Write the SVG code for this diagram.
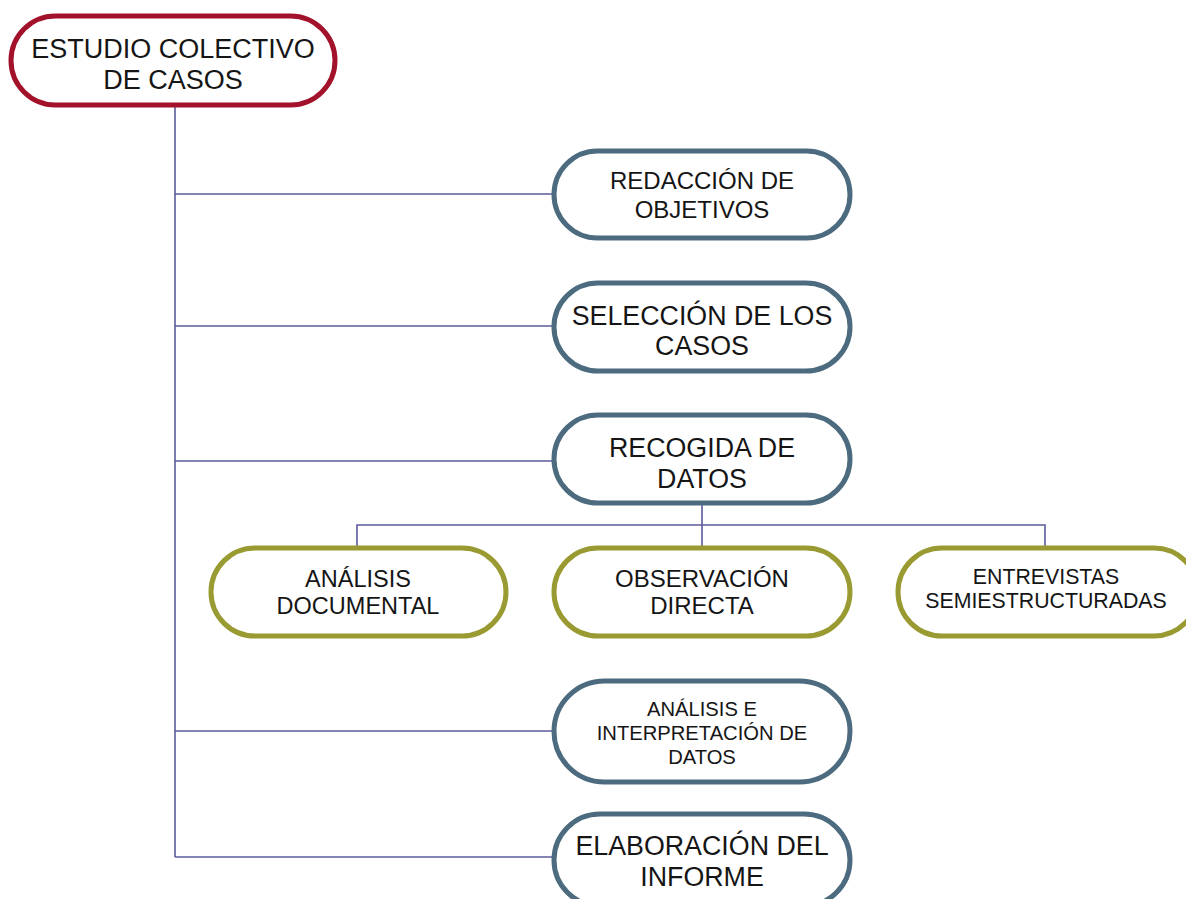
<svg xmlns="http://www.w3.org/2000/svg" width="1186" height="899" viewBox="0 0 1186 899">
<style>
.bg{fill:#ffffff}
.red{fill:#fff;stroke:#a3122b;stroke-width:5}
.blue{fill:#fff;stroke:#4c6b7f;stroke-width:5}
.green{fill:#fff;stroke:#9a9a32;stroke-width:5}
text{font-family:"Liberation Sans",Arial,sans-serif;fill:#151515;text-anchor:middle}
.conn{fill:none;stroke:#5b5b9c;stroke-width:1.6}
</style>
<rect class="bg" x="0" y="0" width="1186" height="899"/>
<g id="connectors">
<path class="conn" d="M175,106 V857 M175,194 H553 M175,326 H553 M175,461 H553 M175,731 H553 M175,857 H553"/>
<path class="conn" d="M702,504 V525 M357,547 V525 H1045 V547 M702,525 V547"/>
</g>
<g id="n-estudio">
<rect class="red" x="11" y="16" width="324" height="89" rx="44.5"/>
<text x="173" y="58" font-size="27">ESTUDIO COLECTIVO</text>
<text x="173" y="89" font-size="27">DE CASOS</text>
</g>
<g id="n-redaccion">
<rect class="blue" x="554" y="151" width="296" height="87" rx="43.5"/>
<text x="702" y="189" font-size="24">REDACCIÓN DE</text>
<text x="702" y="218" font-size="24">OBJETIVOS</text>
</g>
<g id="n-seleccion">
<rect class="blue" x="554" y="283" width="296" height="88" rx="44"/>
<text x="702" y="325" font-size="26.8">SELECCIÓN DE LOS</text>
<text x="702" y="355" font-size="26.8">CASOS</text>
</g>
<g id="n-recogida">
<rect class="blue" x="554" y="415" width="296" height="88" rx="44"/>
<text x="702" y="457" font-size="26.8">RECOGIDA DE</text>
<text x="702" y="488" font-size="26.8">DATOS</text>
</g>
<g id="n-analisis-doc">
<rect class="green" x="211" y="548" width="295" height="88" rx="44"/>
<text x="358" y="587" font-size="23.5">ANÁLISIS</text>
<text x="358" y="614" font-size="23.5">DOCUMENTAL</text>
</g>
<g id="n-observacion">
<rect class="green" x="554" y="548" width="296" height="88" rx="44"/>
<text x="702" y="587" font-size="24">OBSERVACIÓN</text>
<text x="702" y="614" font-size="24">DIRECTA</text>
</g>
<g id="n-entrevistas">
<rect class="green" x="898" y="548" width="300" height="88" rx="44"/>
<text x="1046" y="584" font-size="21.3">ENTREVISTAS</text>
<text x="1046" y="608" font-size="21.3">SEMIESTRUCTURADAS</text>
</g>
<g id="n-analisis-interp">
<rect class="blue" x="554" y="681" width="296" height="101" rx="50.5"/>
<text x="702" y="716" font-size="20.2">ANÁLISIS E</text>
<text x="702" y="740" font-size="20.2">INTERPRETACIÓN DE</text>
<text x="702" y="764" font-size="20.2">DATOS</text>
</g>
<g id="n-elaboracion">
<rect class="blue" x="554" y="814" width="296" height="92" rx="46"/>
<text x="702" y="855" font-size="26.8">ELABORACIÓN DEL</text>
<text x="702" y="886" font-size="26.8">INFORME</text>
</g>
</svg>
